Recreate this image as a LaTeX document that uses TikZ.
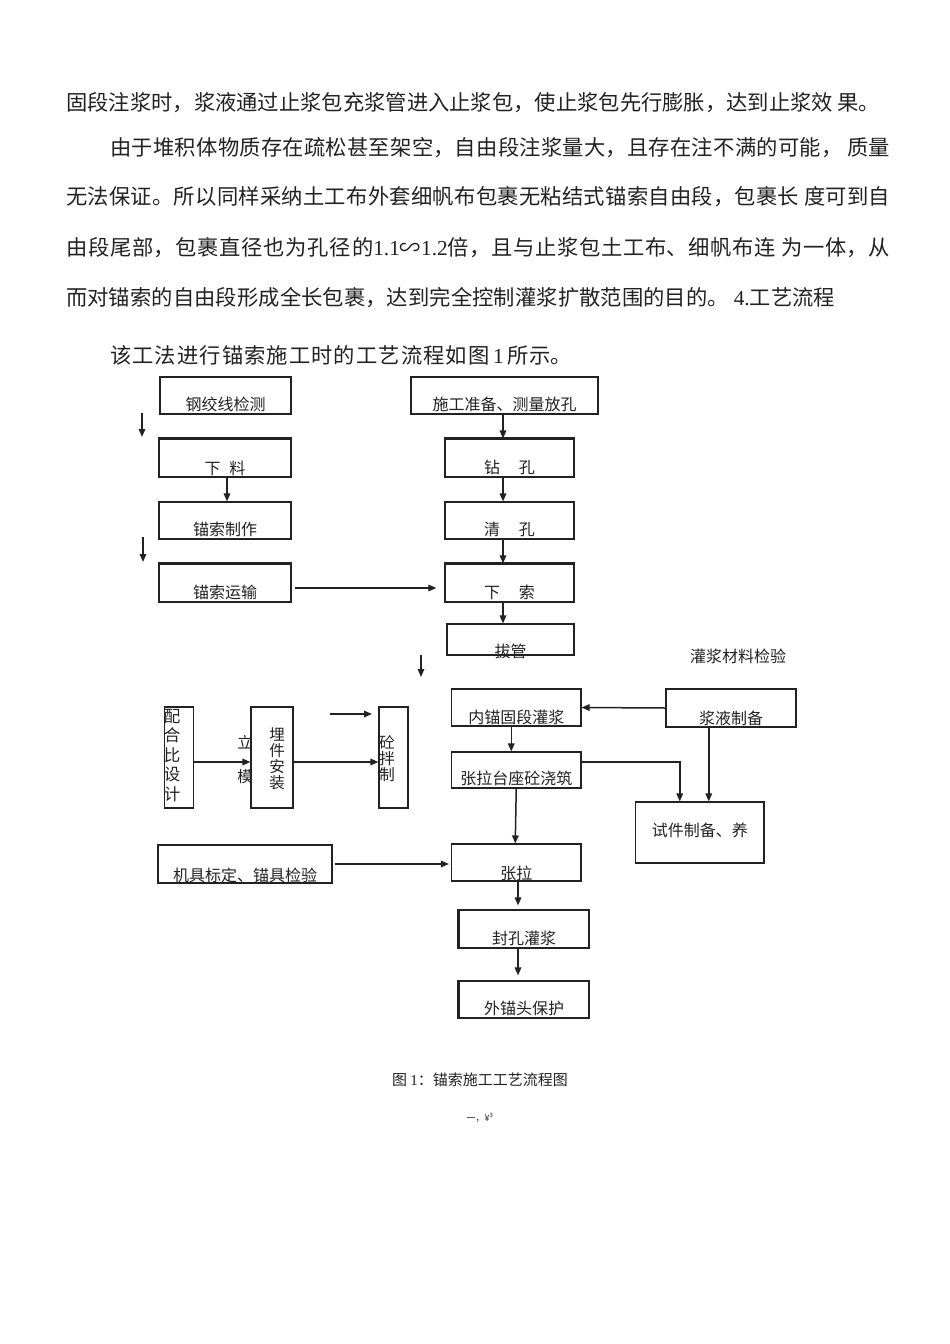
\documentclass[tikz,border=0pt]{standalone}
\usepackage{fontspec}
\setmainfont{Noto Sans CJK SC}
\newfontfamily\lat{Liberation Serif}
\usetikzlibrary{arrows.meta}
\XeTeXlinebreaklocale "zh"
\XeTeXlinebreakskip=0pt plus 4pt
\definecolor{ink}{HTML}{222222}
\newcommand\jline[2]{\parbox[b]{#1}{\tolerance=10000\hbadness=10000\parfillskip=0pt\noindent #2}}
\tikzset{
  body/.style={anchor=base west, inner sep=0pt, font=\fontsize{21.3}{25}\selectfont, text=ink},
  bx/.style={draw=ink, line width=1.1pt, inner sep=0pt},
  lbl/.style={inner sep=0pt, font=\fontsize{16}{18}\selectfont, text=ink, anchor=base},
  vlbl/.style={inner sep=0pt, align=center, text=ink, anchor=north},
  arr/.style={draw=ink, line width=1.5pt, -{Triangle[length=8pt,width=6.5pt]}},
  thk/.style={draw=ink, line width=2.2pt},
}
\newcommand\bx[7]{%
  \node[bx, minimum width=#4pt-#2pt, minimum height=#5pt-#3pt] (#1) at ({(#2+#4)/2},{(#3+#5)/2}) {};
  \node[lbl] (#1t) at ([yshift=#6pt]#1.south) {#7};}
\begin{document}
\begin{tikzpicture}[x=1pt,y=-1pt]
\useasboundingbox (0,0) rectangle (950,1344);
\fill[white] (0,0) rectangle (950,1344);
% body text
\node[body] (l1) at (66,110) {\jline{814pt}{固段注浆时，浆液通过止浆包充浆管进入止浆包，使止浆包先行膨胀，达到止浆效 果。}};
\node[body] (l2) at (110,155) {\jline{780pt}{由于堆积体物质存在疏松甚至架空，自由段注浆量大，且存在注不满的可能， 质量}};
\node[body] (l3) at (66,204) {\jline{824pt}{无法保证。所以同样采纳土工布外套细帆布包裹无粘结式锚索自由段，包裹长 度可到自}};
\node[body] (l4) at (66,255) {\jline{824pt}{由段尾部，包裹直径也为孔径的{\lat 1.1}∽{\lat 1.2}倍，且与止浆包土工布、细帆布连 为一体，从}};
\node[body] (l5) at (66,305) {\jline{769pt}{而对锚索的自由段形成全长包裹，达到完全控制灌浆扩散范围的目的。 {\lat 4.}工艺流程}};
\node[body] (l6) at (110,363) {\jline{462pt}{该工法进行锚索施工时的工艺流程如图{\lat\,1\,}所示。}};
% boxes
\bx{gj}{160}{377}{291}{414}{4}{钢绞线检测}
\bx{sg}{411}{377}{598}{414}{4}{施工准备、测量放孔}
\bx{xl}{159}{439}{291}{477}{3.5}{下\hspace{9pt}料}
\bx{mz}{159}{502}{291}{539}{4}{锚索制作}
\bx{ys}{159}{564}{291}{602}{4}{锚索运输}
\bx{zk}{445}{439}{574}{477}{4}{钻\hspace{19pt}孔}
\bx{qk}{445}{502}{574}{539}{4}{清\hspace{19pt}孔}
\bx{xs}{445}{564}{574}{602}{4}{下\hspace{19pt}索}
\bx{bg}{447}{624}{574}{655}{-2}{拔管}
\bx{ph}{164.5}{707}{193.5}{808}{0}{}
\bx{mj}{251}{707}{293}{808}{0}{}
\bx{tp}{379}{707}{408}{808}{0}{}
\bx{nm}{451.5}{689}{581}{726}{3}{内锚固段灌浆}
\bx{jy}{666}{689}{796}{727}{3}{浆液制备}
\bx{zt}{451.5}{752}{581}{788}{4}{张拉台座砼浇筑}
\bx{sj}{635.5}{802}{764}{863}{27}{试件制备、养}
\bx{zl}{451.5}{844}{581}{881}{2}{张拉}
\bx{jj}{158}{845}{332}{883}{2}{机具标定、锚具检验}
\bx{fk}{459}{910}{589}{948}{4}{封孔灌浆}
\bx{wm}{459}{981}{589}{1018}{4}{外锚头保护}
% thicker edges
\draw[thk] (xl.north west) -- (xl.north east);
\draw[thk] (ys.north west) -- (ys.north east);
\draw[thk] (zk.north west) -- (zk.north east);
\draw[thk] (xs.north west) -- (xs.north east);
\draw[thk] (fk.north west) -- (fk.south west);
\draw[thk] (wm.north west) -- (wm.south west);
% vertical labels
\node[vlbl, font=\fontsize{16.5}{19.5}\selectfont] (pht) at (172,709) {配\\合\\比\\设\\计};
\node[vlbl, font=\fontsize{15.5}{16.3}\selectfont] (mjt) at (277,727) {埋\\件\\安\\装};
\node[vlbl, font=\fontsize{15.5}{16}\selectfont] (tpt) at (387,735) {砼\\拌\\制};
\node[lbl, anchor=center, font=\fontsize{15.5}{17}\selectfont] (li) at (245,742) {立};
\node[lbl, anchor=center, font=\fontsize{15.5}{17}\selectfont] (mo) at (245,777) {模};
\node[lbl, anchor=center] (gc) at (738,656) {灌浆材料检验};
% free arrows
\coordinate (a1s) at (142,413); \coordinate (a1e) at (142,437);
\coordinate (a2s) at (143,537); \coordinate (a2e) at (143,562);
\coordinate (a3s) at (421,655); \coordinate (a3e) at (421,677);
\coordinate (a4s) at (330,714); \coordinate (a4e) at (372,714);
\draw[arr] (a1s) -- (a1e);
\draw[arr] (a2s) -- (a2e);
\draw[arr] (a3s) -- (a3e);
\draw[arr] (a4s) -- (a4e);
% connectors
\draw[arr] ([xshift=2pt]xl.south) -- ([xshift=2pt]mz.north);
\draw[arr] ([xshift=3pt,yshift=-5pt]ys.east) -- ([xshift=-8pt,yshift=-5pt]xs.west);
\draw[arr] ([xshift=-1.5pt]sg.south) -- ([xshift=-1.5pt]sg.south |- zk.north);
\draw[arr] ([xshift=-1.5pt]sg.south |- zk.south) -- ([xshift=-1.5pt]sg.south |- qk.north);
\draw[arr] ([xshift=-1.5pt]sg.south |- qk.south) -- ([xshift=-1.5pt]sg.south |- xs.north);
\draw[arr] ([xshift=-1.5pt]sg.south |- xs.south) -- ([xshift=-1.5pt]sg.south |- bg.north);
\draw[arr] ([yshift=-4.5pt]ph.east) -- ([yshift=-4.5pt]mj.west);
\draw[arr] ([yshift=-4.5pt]mj.east) -- ([yshift=-4.5pt]tp.west);
\draw[arr] (jy.west) -- (nm.east);
\draw[arr] ([xshift=-5pt]nm.south) -- ([xshift=-5pt]zt.north);
\draw[arr] ([yshift=8pt]zt.east) -| ([xshift=-20pt]sj.north);
\draw[arr] ([xshift=9pt]sj.north |- jy.south) -- ([xshift=9pt]sj.north);
\draw[arr] (zt.south) -- ([xshift=-1pt]zl.north);
\draw[arr] ([xshift=2pt]jj.east) -- ([xshift=-2pt]zl.west |- jj.east);
\draw[arr, shorten >=4pt] ([xshift=-6pt]fk.north |- zl.south) -- ([xshift=-6pt]fk.north);
\draw[arr, shorten >=5pt] ([xshift=-6pt]fk.south) -- ([xshift=-6pt]wm.north);
% caption
\node[lbl, anchor=center, font=\fontsize{15}{17}\selectfont] (cap) at (480,1080) {图 {\lat 1}：锚索施工工艺流程图};
\node[lbl, anchor=center, font=\fontsize{9}{10}\selectfont] (ft) at (480,1118) {一，¥\textsuperscript{3}};
\end{tikzpicture}
\end{document}
